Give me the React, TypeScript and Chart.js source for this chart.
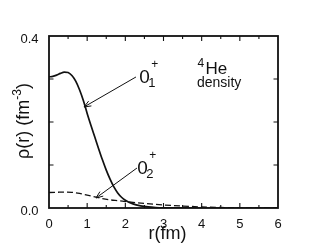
import React, { useEffect, useRef } from 'react';
import { Chart, registerables } from 'chart.js';

Chart.register(...registerables);

// ---- data ----
const rGround = [0, 0.1, 0.2, 0.3, 0.4, 0.5, 0.6, 0.7, 0.8, 0.9, 1.0, 1.1, 1.2, 1.3, 1.4, 1.5, 1.6, 1.7, 1.8, 1.9, 2.0, 2.2, 2.4, 2.6, 2.8, 3.0, 3.5, 4.0, 5.0, 6.0];
const rhoGround = [0.305, 0.306, 0.309, 0.313, 0.316, 0.315, 0.308, 0.295, 0.275, 0.25, 0.22, 0.192, 0.165, 0.138, 0.112, 0.088, 0.067, 0.049, 0.035, 0.025, 0.018, 0.0095, 0.005, 0.0025, 0.0012, 0.0006, 0.0001, 0, 0, 0];
const rExcited = [0, 0.2, 0.4, 0.6, 0.8, 1.0, 1.2, 1.4, 1.6, 1.8, 2.0, 2.2, 2.5, 3.0, 3.5, 4.0, 4.5, 5.0, 6.0];
const rhoExcited = [0.036, 0.0365, 0.037, 0.0365, 0.034, 0.030, 0.026, 0.022, 0.019, 0.017, 0.015, 0.013, 0.0105, 0.007, 0.0045, 0.0025, 0.0012, 0.0005, 0];

const xTickValues = [0, 1, 2, 3, 4, 5, 6];
const xMajorMarks = [1, 2, 3, 4, 5];
const xMinorMarks = [0.5, 1.5, 2.5, 3.5, 4.5, 5.5];
const yMajorMarks = [0.1, 0.2, 0.3];
const yLabelled: Record<string, string> = { '0': '0.0', '0.4': '0.4' };

const xTitle = 'r(fm)';
const yTitleMain = 'ρ(r) (fm';
const yTitleSup = '-3';
const yTitleEnd = ')';

// annotation anchors, in data units (r, rho)
const groundLabel = { r: 2.363, rho: 0.2907, sub: '1' };
const excitedLabel = { r: 2.311, rho: 0.0791, sub: '2' };
const groundArrow = { from: [2.279, 0.3047], to: [0.917, 0.2349] };
const excitedArrow = { from: [2.305, 0.093], to: [1.231, 0.0233] };
const nucleusLabel = { r: 4.1, rho: 0.3116, mass: '4', symbol: 'He', note: 'density' };

const INK = '#111111';
const FONT = "'Liberation Sans', Arial, Helvetica, sans-serif";

const decorPlugin = {
  id: 'decor',
  afterDatasetsDraw(chart: any) {
    const { ctx, chartArea: a, scales } = chart;
    const X = (v: number) => scales.x.getPixelForValue(v);
    const Y = (v: number) => scales.y.getPixelForValue(v);
    ctx.save();
    ctx.strokeStyle = INK;
    ctx.fillStyle = INK;

    // frame
    ctx.lineWidth = 1.8;
    ctx.strokeRect(a.left, a.top, a.right - a.left, a.bottom - a.top);

    // inward ticks
    ctx.lineWidth = 1.1;
    ctx.beginPath();
    const xt = (v: number, len: number) => {
      const px = X(v);
      ctx.moveTo(px, a.bottom); ctx.lineTo(px, a.bottom - len);
      ctx.moveTo(px, a.top); ctx.lineTo(px, a.top + len);
    };
    xMajorMarks.forEach((v) => xt(v, 5));
    xMinorMarks.forEach((v) => xt(v, 3));
    yMajorMarks.forEach((v) => {
      const py = Y(v);
      ctx.moveTo(a.left, py); ctx.lineTo(a.left + 4.5, py);
      ctx.moveTo(a.right, py); ctx.lineTo(a.right - 4.5, py);
    });
    ctx.stroke();

    // arrows
    const arrow = (from: number[], to: number[]) => {
      const x1 = X(from[0]), y1 = Y(from[1]);
      const x2 = X(to[0]), y2 = Y(to[1]);
      const ang = Math.atan2(y2 - y1, x2 - x1);
      const L = 7.5, s = 0.38;
      ctx.lineWidth = 1;
      ctx.beginPath();
      ctx.moveTo(x1, y1); ctx.lineTo(x2, y2);
      ctx.moveTo(x2 - L * Math.cos(ang - s), y2 - L * Math.sin(ang - s));
      ctx.lineTo(x2, y2);
      ctx.lineTo(x2 - L * Math.cos(ang + s), y2 - L * Math.sin(ang + s));
      ctx.stroke();
    };
    arrow(groundArrow.from, groundArrow.to);
    arrow(excitedArrow.from, excitedArrow.to);

    // state labels 0_n^+
    ctx.textBaseline = 'alphabetic';
    ctx.textAlign = 'left';
    const state = (lab: { r: number; rho: number; sub: string }) => {
      const x0 = X(lab.r), y0 = Y(lab.rho);
      ctx.font = `19px ${FONT}`;
      ctx.fillText('0', x0, y0);
      const w = ctx.measureText('0').width;
      ctx.font = `13px ${FONT}`;
      ctx.fillText(lab.sub, x0 + w - 1.5, y0 + 4);
      ctx.font = `12px ${FONT}`;
      ctx.fillText('+', x0 + w + 1.5, y0 - 15);
    };
    state(groundLabel);
    state(excitedLabel);

    // nucleus label
    {
      const x0 = X(nucleusLabel.r), y0 = Y(nucleusLabel.rho);
      ctx.font = `17px ${FONT}`;
      ctx.fillText(nucleusLabel.symbol, x0, y0);
      ctx.font = `12px ${FONT}`;
      ctx.fillText(nucleusLabel.mass, x0 - 8, y0 - 7.5);
      ctx.font = `14px ${FONT}`;
      ctx.fillText(nucleusLabel.note, x0 - 8.5, y0 + 13);
    }

    // x title
    ctx.font = `18px ${FONT}`;
    ctx.textAlign = 'center';
    ctx.fillText(xTitle, (a.left + a.right) / 2 + 4, 239);

    // y title (rotated, with superscript)
    ctx.textAlign = 'left';
    ctx.translate(29, (a.top + a.bottom) / 2 - 1);
    ctx.rotate(-Math.PI / 2);
    ctx.font = `18px ${FONT}`;
    const w1 = ctx.measureText(yTitleMain).width;
    const w3 = ctx.measureText(yTitleEnd).width;
    ctx.font = `12px ${FONT}`;
    const w2 = ctx.measureText(yTitleSup).width;
    let cx = -(w1 + w2 + w3) / 2;
    ctx.font = `18px ${FONT}`;
    ctx.fillText(yTitleMain, cx, 0);
    cx += w1;
    ctx.font = `12px ${FONT}`;
    ctx.fillText(yTitleSup, cx, -8);
    cx += w2;
    ctx.font = `18px ${FONT}`;
    ctx.fillText(yTitleEnd, cx, 0);

    ctx.restore();
  },
};

export default function App() {
  const ref = useRef<HTMLCanvasElement | null>(null);
  useEffect(() => {
    if (!ref.current) return;
    const chart = new Chart(ref.current, {
      type: 'line',
      data: {
        datasets: [
          {
            label: '0_1^+',
            data: rGround.map((r, i) => ({ x: r, y: rhoGround[i] })),
            borderColor: INK,
            borderWidth: 1.7,
            pointRadius: 0,
            cubicInterpolationMode: 'monotone',
            fill: false,
          },
          {
            label: '0_2^+',
            data: rExcited.map((r, i) => ({ x: r, y: rhoExcited[i] })),
            borderColor: INK,
            borderWidth: 1.3,
            borderDash: [6, 3],
            pointRadius: 0,
            cubicInterpolationMode: 'monotone',
            fill: false,
          },
        ],
      },
      options: {
        responsive: false,
        animation: false,
        events: [],
        layout: { padding: { left: 0, top: 36, right: 49, bottom: 0 } },
        plugins: { legend: { display: false }, tooltip: { enabled: false } },
        scales: {
          x: {
            type: 'linear',
            min: 0,
            max: 6,
            afterFit: (s: any) => { s.height = 37; },
            afterBuildTicks: (s: any) => { s.ticks = xTickValues.map((v) => ({ value: v })); },
            grid: { display: false },
            border: { display: false },
            ticks: {
              color: INK,
              font: { family: FONT, size: 13 },
              padding: 1,
              maxRotation: 0,
              autoSkip: false,
              callback: (v: any) => String(v),
            },
          },
          y: {
            type: 'linear',
            min: 0,
            max: 0.4,
            afterFit: (s: any) => { s.width = 49; },
            grid: { display: false },
            border: { display: false },
            ticks: {
              stepSize: 0.1,
              color: INK,
              font: { family: FONT, size: 13 },
              padding: 2.5,
              labelOffset: 3,
              autoSkip: false,
              callback: (v: any) => yLabelled[String(Math.round(Number(v) * 10) / 10)] ?? '',
            },
          },
        },
      },
      plugins: [decorPlugin],
    } as any);
    return () => chart.destroy();
  }, []);
  return (
    <div style={{ position: 'fixed', left: 0, top: 0, width: 327, height: 245, background: '#fff' }}>
      <canvas ref={ref} width={327} height={245} style={{ display: 'block' }} />
    </div>
  );
}
